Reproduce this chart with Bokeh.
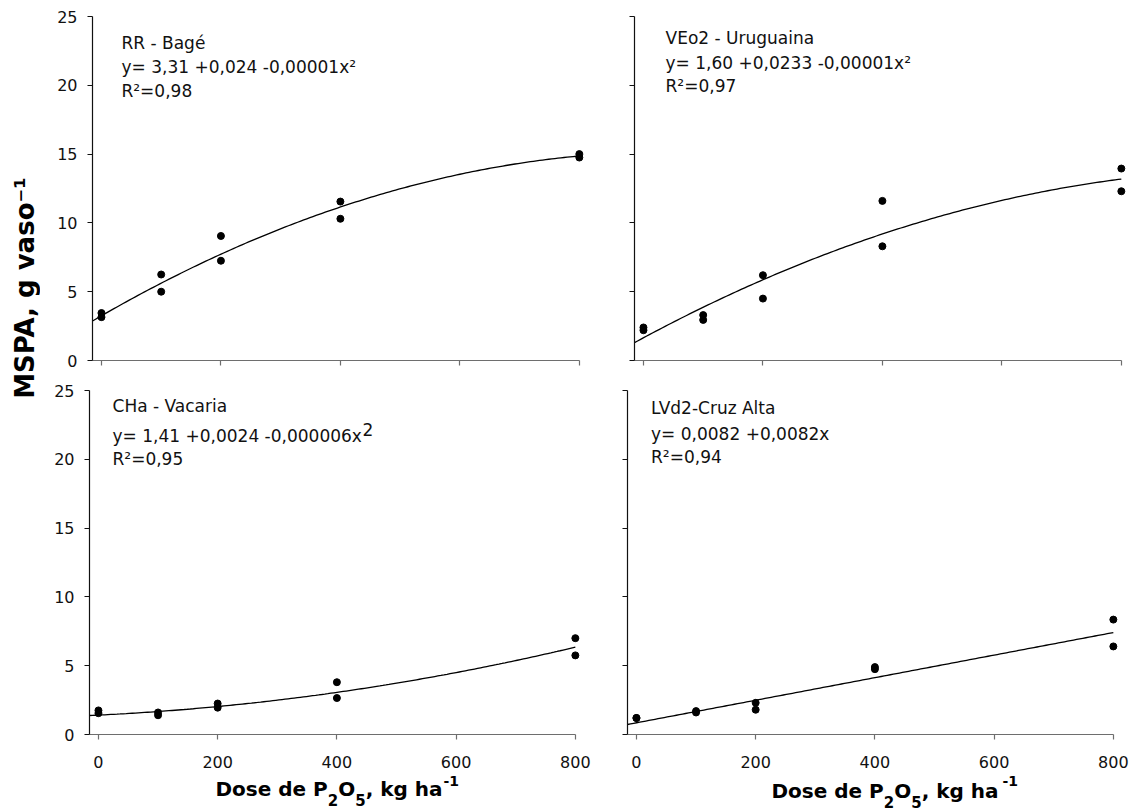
import math
import numpy as np
from bokeh.plotting import figure
from bokeh.models import Label, Range1d, FixedTicker
from bokeh.layouts import row, column
from bokeh.embed import file_html
from bokeh.resources import INLINE

# ---------------- data ----------------
doses = [0, 100, 200, 400, 800]
x_ticks = [0, 200, 400, 600, 800]
y_ticks = [0, 5, 10, 15, 20, 25]

bage_rep1 = [3.45, 6.25, 9.05, 11.55, 15.0]
bage_rep2 = [3.15, 5.0, 7.25, 10.3, 14.75]
urug_rep1 = [2.4, 3.3, 6.2, 11.6, 13.95]
urug_rep2 = [2.2, 2.95, 4.5, 8.3, 12.3]
vac_rep1 = [1.75, 1.6, 2.25, 3.8, 7.0]
vac_rep2 = [1.55, 1.4, 1.95, 2.65, 5.75]
cruz_rep1 = [1.2, 1.7, 2.3, 4.9, 8.35]
cruz_rep2 = [1.2, 1.6, 1.8, 4.75, 6.4]

# fitted regression curves (a + b*x + c*x^2), as drawn
fit_bage = [3.25, 0.025, -0.0000131]
fit_urug = [1.65, 0.0233, -0.0000111]
fit_vac = [1.41, 0.00209, 0.0000051]
fit_cruz = [0.85, 0.0082, 0.0]

titles = ["RR - Bagé", "VEo2 - Uruguaina", "CHa - Vacaria", "LVd2-Cruz Alta"]
equations = ["y= 3,31 +0,024 -0,00001x²", "y= 1,60 +0,0233 -0,00001x²",
             "y= 1,41 +0,0024 -0,000006x", "y= 0,0082 +0,0082x"]
r2_texts = ["R²=0,98", "R²=0,97", "R²=0,95", "R²=0,94"]
# x-axis title pieces: (text, role) role: n=normal, sub=subscript
x_title_runs = [("Dose de P", "n"), ("2", "sub"), ("O", "n"), ("5", "sub"), (", kg ha", "n")]
x_title_exp = "-1"
y_title = "MSPA, g vaso⁻¹"

FONT = "DejaVu Sans"
X_START, X_END = -15, 800

# DejaVu Sans Bold advance widths (em) used to chain the title pieces
BOLD_W = {"D": .830, "o": .687, "s": .595, "e": .678, " ": .348, "d": .716, "P": .733,
          "O": .850, ",": .381, "k": .665, "g": .716, "h": .712, "a": .675,
          "2": .696, "5": .696, "-": .416, "1": .696}


def bold_width(t, size):
    return sum(BOLD_W.get(ch, .65) for ch in t) * size


def panel(fw, left, right, top, bottom, show_x, show_y):
    p = figure(frame_width=fw, frame_height=344,
               x_range=Range1d(X_START, 812), y_range=Range1d(0, 25),
               min_border_left=left, min_border_right=right,
               min_border_top=top, min_border_bottom=bottom,
               output_backend="svg", toolbar_location=None)
    p.outline_line_color = None
    p.xgrid.visible = False
    p.ygrid.visible = False
    xa = p.xaxis[0]
    ya = p.yaxis[0]
    xa.ticker = FixedTicker(ticks=x_ticks)
    ya.ticker = FixedTicker(ticks=y_ticks)
    xa.bounds = (X_START, X_END)
    ya.bounds = (0, 25)
    for ax, col in ((xa, "#6e6e6e"), (ya, "#111111")):
        ax.axis_line_color = col
        ax.major_tick_line_color = col
        ax.axis_line_width = 1.2
        ax.major_tick_line_width = 1.2
        ax.major_tick_out = 5
        ax.major_tick_in = 0
        ax.minor_tick_line_color = None
        ax.major_label_text_font = FONT
        ax.major_label_text_font_size = "16px"
        ax.major_label_text_color = "#111111"
    xa.major_label_standoff = 16
    ya.major_label_standoff = 10
    if not show_x:
        xa.major_label_overrides = {t: "" for t in x_ticks}
        xa.major_label_text_font_size = "0px"
        xa.major_label_standoff = 0
    if not show_y:
        ya.major_label_overrides = {t: "" for t in y_ticks}
        ya.major_label_text_font_size = "0px"
        ya.major_label_standoff = 0
    return p


def draw(p, r1, r2, fit):
    xs = np.linspace(X_START, X_END, 160)
    ys = fit[0] + fit[1] * xs + fit[2] * xs ** 2
    p.line(xs, ys, line_color="black", line_width=1.3)
    p.scatter(doses, r1, size=7, color="black")
    p.scatter(doses, r2, size=7, color="black")


def texts(p, i, x, ys):
    for t, y in zip((titles[i], equations[i], r2_texts[i]), ys):
        p.add_layout(Label(x=x, y=y, text=t, text_font=FONT, text_font_size="17px",
                           text_baseline="alphabetic", text_align="left",
                           text_color="#111111"))


tl = panel(494, 52, 28, 14, 17, False, True)
tr = panel(494, 20, 11, 16, 15, False, False)
bl = panel(493, 49, 25, 14, 41, True, True)
br = panel(493, 20, 19, 15, 40, True, False)

draw(tl, bage_rep1, bage_rep2, fit_bage)
draw(tr, urug_rep1, urug_rep2, fit_urug)
draw(bl, vac_rep1, vac_rep2, fit_vac)
draw(br, cruz_rep1, cruz_rep2, fit_cruz)

texts(tl, 0, 33.5, [23.07, 21.33, 19.56])
texts(tr, 1, 37.0, [23.46, 21.64, 19.95])
texts(bl, 2, 23.6, [23.87, 21.69, 20.0])
texts(br, 3, 24.5, [23.73, 21.84, 20.17])
# raised full-size exponent in the Vacaria equation
bl.add_layout(Label(x=23.6, y=21.69, x_offset=250, y_offset=7, text="2",
                    text_font=FONT, text_font_size="17px",
                    text_baseline="alphabetic", text_color="#111111"))

# strip under the bottom panels for the x-axis titles (coordinates = page pixels)
xs_strip = figure(frame_width=1099, frame_height=37, x_range=Range1d(40, 1139),
                  y_range=Range1d(811, 774), min_border=0,
                  x_axis_location=None, y_axis_location=None,
                  output_backend="svg", toolbar_location=None)
xs_strip.outline_line_color = None
xs_strip.xgrid.visible = False
xs_strip.ygrid.visible = False

MAIN, SMALL, SUP = 20, 15, 14


def title_runs(fig, x0, base):
    x = x0
    for t, role in x_title_runs:
        size = MAIN if role == "n" else SMALL
        y = base + (11 if role == "sub" else 0)
        fig.add_layout(Label(x=x, y=y, text=t, text_font=FONT, text_font_style="bold",
                             text_font_size=f"{size}px", text_baseline="alphabetic",
                             text_color="black"))
        x += bold_width(t, size)
    return x


end_bl = title_runs(xs_strip, 215, 788.3)
xs_strip.add_layout(Label(x=end_bl + 1, y=780.5, text=x_title_exp, text_font=FONT,
                          text_font_style="bold", text_font_size=f"{SUP}px",
                          text_baseline="alphabetic", text_color="black"))
end_br = title_runs(xs_strip, 771, 790.5)
xs_strip.add_layout(Label(x=end_br + 4, y=780, text=x_title_exp, text_font=FONT,
                          text_font_style="bold", text_font_size=f"{SUP}px",
                          text_baseline="alphabetic", text_color="black"))

# shared y-axis title in a narrow strip (coordinates = page pixels)
yl = figure(frame_width=40, frame_height=811, x_range=Range1d(0, 40), y_range=Range1d(811, 0),
            min_border=0, x_axis_location=None, y_axis_location=None,
            output_backend="svg", toolbar_location=None)
yl.outline_line_color = None
yl.xgrid.visible = False
yl.ygrid.visible = False
yl.add_layout(Label(x=24, y=398.3, text=y_title, angle=math.pi / 2,
                    text_font=FONT, text_font_style="bold", text_font_size="26px",
                    text_baseline="alphabetic", text_align="left", text_color="black"))

layout = row(yl, column(row(tl, tr), row(bl, br), xs_strip))

open("out.html", "w").write(file_html(layout, INLINE))
